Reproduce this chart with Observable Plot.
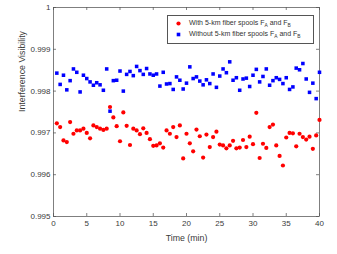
<!DOCTYPE html>
<html>
<head>
<meta charset="utf-8">
<script src="https://cdn.jsdelivr.net/npm/d3@7"></script>
<script src="https://cdn.jsdelivr.net/npm/@observablehq/plot@0.6"></script>
<style>
  html, body { margin: 0; padding: 0; background: #fff; }
  #wrap { position: relative; width: 337px; height: 254px; font-family: "Liberation Sans", Arial, sans-serif; }
  #legend { position: absolute; left: 167px; top: 15px; width: 147px; height: 29px; border: 0.75px solid #555; background: #fff; box-sizing: border-box; font-size: 7px; color: #333; }
  .row { position: absolute; left: 0; height: 10px; line-height: 10px; white-space: nowrap; }
  .row .mk { position: absolute; }
  .row span.t { position: absolute; left: 21px; }
  sub { font-size: 0.7em; vertical-align: -0.35em; line-height: 0; }
</style>
</head>
<body>
<div id="wrap"></div>
<script>
// ---- data ----
const times = [0.5,1,1.5,2,2.5,3,3.5,4,4.5,5,5.5,6,6.5,7,7.5,8,8.5,9,9.5,10,10.5,11,11.5,12,12.5,13,13.5,14,14.5,15,15.5,16,16.5,17,17.5,18,18.5,19,19.5,20,20.5,21,21.5,22,22.5,23,23.5,24,24.5,25,25.5,26,26.5,27,27.5,28,28.5,29,29.5,30,30.5,31,31.5,32,32.5,33,33.5,34,34.5,35,35.5,36,36.5,37,37.5,38,38.5,39,39.5,40];
const withSpools = [0.99723,0.99714,0.99682,0.99678,0.99726,0.99698,0.99706,0.99706,0.99710,0.99700,0.99687,0.99718,0.99714,0.99710,0.99707,0.99710,0.99762,0.99737,0.99716,0.99680,0.99749,0.99717,0.99671,0.99710,0.99706,0.99697,0.99711,0.99700,0.99685,0.99669,0.99670,0.99675,0.99665,0.99706,0.99698,0.99714,0.99690,0.99718,0.99639,0.99698,0.99675,0.99656,0.99708,0.99692,0.99641,0.99696,0.99666,0.99690,0.99703,0.99672,0.99670,0.99663,0.99670,0.99681,0.99663,0.99665,0.99683,0.99666,0.99691,0.99673,0.99748,0.99640,0.99674,0.99664,0.99714,0.99720,0.99670,0.99645,0.99622,0.99689,0.99700,0.99699,0.99668,0.99698,0.99690,0.99684,0.99691,0.99662,0.99694,0.99731];
const withoutSpools = [0.99843,0.99816,0.99838,0.99803,0.99825,0.99853,0.99845,0.99798,0.99838,0.99830,0.99822,0.99814,0.99820,0.99815,0.99802,0.99853,0.99752,0.99825,0.99826,0.99848,0.99800,0.99840,0.99847,0.99837,0.99859,0.99849,0.99840,0.99854,0.99841,0.99838,0.99841,0.99812,0.99845,0.99817,0.99818,0.99804,0.99834,0.99826,0.99805,0.99819,0.99858,0.99830,0.99834,0.99824,0.99815,0.99827,0.99818,0.99841,0.99809,0.99836,0.99853,0.99844,0.99870,0.99826,0.99832,0.99802,0.99829,0.99831,0.99811,0.99838,0.99852,0.99822,0.99835,0.99853,0.99814,0.99825,0.99832,0.99828,0.99818,0.99832,0.99804,0.99810,0.99855,0.99851,0.99866,0.99829,0.99797,0.99819,0.99782,0.99845];
const xTicks = [0,5,10,15,20,25,30,35,40];
const yTicks = [0.995,0.996,0.997,0.998,0.999,1];
const yTickLabels = ["0.995","0.996","0.997","0.998","0.999","1"];
const xLabel = "Time (min)";
const yLabel = "Interference Visibility";
const seriesNames = ["With 5-km fiber spools F<sub>A</sub> and F<sub>B</sub>", "Without 5-km fiber spools F<sub>A</sub> and F<sub>B</sub>"];
const seriesColors = ["#ff0000", "#0000ff"];

const W = 337, H = 254, mL = 53, mR = 18, mT = 7, mB = 38;
const innerH = H - mT - mB, innerW = W - mL - mR, tk = 3;
const axisColor = "#555";
const textColor = "#3a3a3a";

const redData = times.map((t, i) => ({t, v: withSpools[i]}));
const blueData = times.map((t, i) => ({t, v: withoutSpools[i]}));

const chart = Plot.plot({
  width: W, height: H,
  marginLeft: mL, marginRight: mR, marginTop: mT, marginBottom: mB,
  style: {fontFamily: "'Liberation Sans', Arial, sans-serif", background: "#fff", color: textColor},
  x: {domain: [0, 40], axis: null},
  y: {domain: [0.995, 1], axis: null},
  marks: [
    Plot.frame({stroke: axisColor, strokeWidth: 0.75}),
    // inward ticks on all four sides
    Plot.ruleX(xTicks, {x: d => d, insetTop: innerH - tk, stroke: axisColor, strokeWidth: 0.75}),
    Plot.ruleX(xTicks, {x: d => d, insetBottom: innerH - tk, stroke: axisColor, strokeWidth: 0.75}),
    Plot.ruleY(yTicks, {y: d => d, insetRight: innerW - tk, stroke: axisColor, strokeWidth: 0.75}),
    Plot.ruleY(yTicks, {y: d => d, insetLeft: innerW - tk, stroke: axisColor, strokeWidth: 0.75}),
    Plot.axisX({ticks: xTicks, tickSize: 0, tickPadding: 4, fontSize: 8, label: null, color: textColor}),
    Plot.axisY({ticks: yTicks, tickSize: 0, tickPadding: 3, fontSize: 8, label: null, color: textColor,
      tickFormat: d => yTickLabels[yTicks.indexOf(d)]}),
    Plot.text([xLabel], {frameAnchor: "bottom", dy: 22, fontSize: 8.8, fill: textColor, lineAnchor: "middle"}),
    Plot.text([yLabel], {frameAnchor: "left", dx: -31, rotate: -90, fontSize: 8.8, fill: textColor, lineAnchor: "middle"}),
    Plot.dot(redData, {x: "t", y: "v", r: 2.1, fill: seriesColors[0], symbol: "circle"}),
    Plot.dot(blueData, {x: "t", y: "v", r: 2.0, fill: seriesColors[1], symbol: "square"})
  ]
});

const wrap = document.getElementById("wrap");
wrap.appendChild(chart);

const legend = document.createElement("div");
legend.id = "legend";
seriesNames.forEach((name, i) => {
  const row = document.createElement("div");
  row.className = "row";
  row.style.top = (i === 0 ? 2 : 13) + "px";
  const mk = i === 0
    ? `<svg class="mk" style="left:8px;top:3px" width="5" height="5"><circle cx="2.5" cy="2.5" r="2.1" fill="${seriesColors[0]}"/></svg>`
    : `<svg class="mk" style="left:8px;top:3px" width="5" height="5"><rect x="0.7" y="0.7" width="3.6" height="3.6" fill="${seriesColors[1]}"/></svg>`;
  row.innerHTML = mk + `<span class="t">${name}</span>`;
  legend.appendChild(row);
});
wrap.appendChild(legend);
</script>
</body>
</html>
